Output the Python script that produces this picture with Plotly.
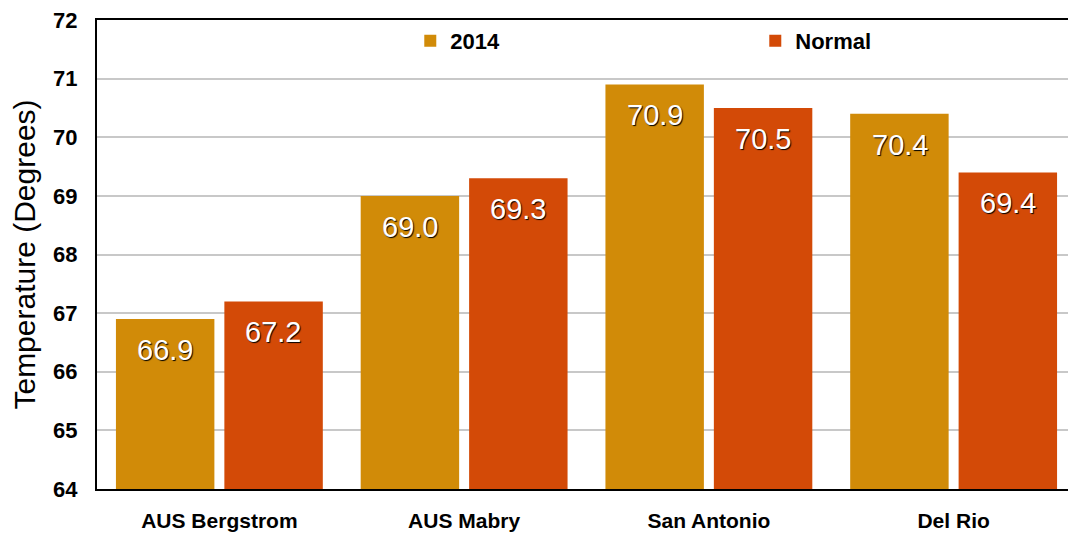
import plotly.graph_objects as go

categories = ["AUS Bergstrom", "AUS Mabry", "San Antonio", "Del Rio"]
vals_2014 = [66.9, 69.0, 70.9, 70.4]
vals_normal = [67.2, 69.3, 70.5, 69.4]
series_names = ["2014", "Normal"]
colors = ["#D18B08", "#D34A07"]
y_ticks = [64, 65, 66, 67, 68, 69, 70, 71, 72]

fig = go.Figure()
for name, vals, col in zip(series_names, [vals_2014, vals_normal], colors):
    fig.add_trace(go.Bar(x=categories, y=vals, name=name, marker=dict(color=col, line=dict(width=0))))

for vals, shift in [(vals_2014, -54), (vals_normal, 54)]:
    for c, v in zip(categories, vals):
        fig.add_annotation(x=c, y=v, xshift=shift, yshift=-31, text=f"{v:.1f}", showarrow=False,
                           font=dict(family="Arial, Liberation Sans", size=29, color="white",
                                     shadow="1px 1px 1px #000"))

fig.update_layout(
    width=1068, height=527,
    margin=dict(l=89, r=0, t=12, b=46, autoexpand=False),
    plot_bgcolor="white", paper_bgcolor="white",
    barmode="group", bargap=0.114, bargroupgap=0.092,
    font=dict(family="Arial, Liberation Sans", color="black"),
    legend=dict(orientation="h", x=0.32, y=1.0, xanchor="left", yanchor="top",
                font=dict(size=22, weight="bold"),
                entrywidth=300, entrywidthmode="pixels", bgcolor="rgba(0,0,0,0)",
                itemwidth=30),
    showlegend=True,
)
fig.update_xaxes(showline=True, linecolor="black", linewidth=2, mirror=True, ticks="",
                 automargin=False, ticklabelstandoff=12,
                 tickfont=dict(size=21, weight="bold"))
fig.update_yaxes(range=[64, 72], tickvals=y_ticks, showgrid=True, gridcolor="#C8C8C8", gridwidth=1.5,
                 showline=True, linecolor="black", linewidth=2, ticks="", zeroline=False,
                 automargin=False, ticklabeloverflow="allow",
                 tickfont=dict(size=22, weight="bold"), ticklabelstandoff=13,
                 title=dict(text="Temperature (Degrees)", font=dict(size=30), standoff=10))
fig.write_html("out.html")
